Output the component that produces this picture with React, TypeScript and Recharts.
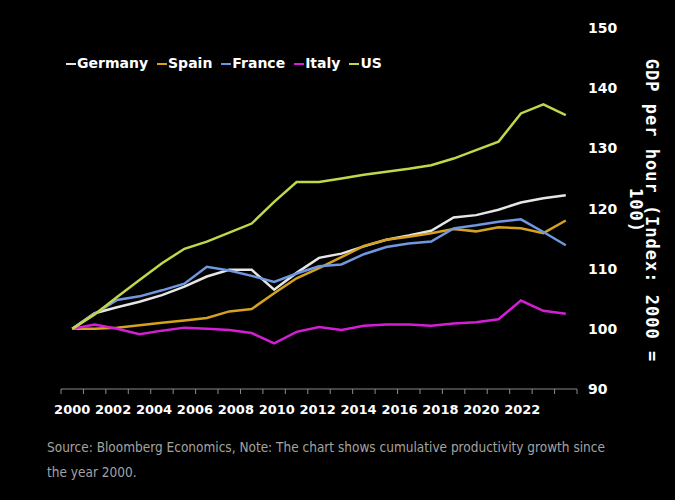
import React from "react";
import { LineChart, Line, XAxis, YAxis, Legend, Label } from "recharts";

const years = [2000, 2001, 2002, 2003, 2004, 2005, 2006, 2007, 2008, 2009, 2010, 2011, 2012, 2013, 2014, 2015, 2016, 2017, 2018, 2019, 2020, 2021, 2022];
const germany = [100, 102.6, 103.6, 104.5, 105.6, 107.0, 108.7, 109.8, 109.8, 106.5, 109.3, 111.8, 112.5, 113.7, 114.8, 115.5, 116.3, 118.5, 118.9, 119.8, 121.0, 121.7, 122.2];
const spain = [100, 100.0, 100.2, 100.6, 101.0, 101.4, 101.8, 102.9, 103.3, 105.9, 108.4, 110.1, 111.9, 113.8, 114.8, 115.3, 115.9, 116.6, 116.2, 116.9, 116.7, 115.9, 118.0];
const france = [100, 102.5, 104.8, 105.4, 106.4, 107.5, 110.3, 109.7, 108.8, 107.8, 109.2, 110.4, 110.7, 112.4, 113.6, 114.2, 114.5, 116.7, 117.2, 117.8, 118.2, 116.1, 113.9];
const italy = [100, 100.7, 100.0, 99.1, 99.7, 100.2, 100.0, 99.8, 99.3, 97.6, 99.5, 100.3, 99.8, 100.5, 100.7, 100.7, 100.5, 100.9, 101.1, 101.6, 104.7, 103.0, 102.5];
const us = [100, 102.4, 105.3, 108.1, 110.9, 113.3, 114.5, 116.0, 117.5, 121.1, 124.4, 124.4, 125.0, 125.6, 126.1, 126.6, 127.2, 128.3, 129.7, 131.1, 135.8, 137.3, 135.5];

const yTicks = [90, 100, 110, 120, 130, 140, 150];
// tick marks sit between the years
const xBounds = [...years.map((y) => y - 0.5), years[years.length - 1] + 0.5];

const series = [
  { key: "Germany", color: "#e6e6e6" },
  { key: "Spain", color: "#d6a21e" },
  { key: "France", color: "#6f98e0" },
  { key: "Italy", color: "#d41ed6" },
  { key: "US", color: "#c3d64a" },
];

const data = years.map((year, i) => ({
  year,
  Germany: germany[i],
  Spain: spain[i],
  France: france[i],
  Italy: italy[i],
  US: us[i],
}));

const W = 675;
const H = 500;
const LEFT = 61;
const Y_AXIS_W = 98;
const BAND = (W - LEFT - Y_AXIS_W) / years.length;
const FONT = "'DejaVu Sans', sans-serif";

function YearTick({ x, y, payload }: any) {
  const year = payload.value + 0.5;
  if (year % 2 !== 0 || year > 2022) return <g />;
  // labels in the original sit a little tighter than the data points
  const cx = x + BAND / 2 - (year - 2000) * 1.98;
  return (
    <text x={cx} y={y + 18} textAnchor="middle" fill="#ffffff" fontFamily={FONT} fontWeight={700} fontSize={13}>
      {year}
    </text>
  );
}

function ValueTick({ x, y, payload }: any) {
  return (
    <text x={x} y={y + 5} textAnchor="start" fill="#ffffff" fontFamily={FONT} fontWeight={700} fontSize={14}>
      {payload.value}
    </text>
  );
}

function AxisTitle({ viewBox }: any) {
  const cy = viewBox.y + viewBox.height / 2 + 2;
  const x1 = viewBox.x + 69;
  const x2 = viewBox.x + 53;
  const st = { fill: "#ffffff", fontFamily: "'DejaVu Sans Mono', monospace", fontWeight: 700, fontSize: 17, letterSpacing: 1 } as const;
  return (
    <g>
      <text x={x1} y={cy} textAnchor="middle" transform={`rotate(90 ${x1} ${cy})`} {...st}>
        GDP per hour (Index: 2000 =
      </text>
      <text x={x2} y={cy} textAnchor="middle" transform={`rotate(90 ${x2} ${cy})`} {...st}>
        100)
      </text>
    </g>
  );
}

function LegendRow() {
  return (
    <div style={{ display: "flex", fontFamily: FONT, fontWeight: 700, fontSize: 14, color: "#ffffff", whiteSpace: "nowrap" }}>
      {series.map((s) => (
        <span key={s.key} style={{ display: "flex", alignItems: "center", marginRight: 9 }}>
          <span style={{ width: 10, height: 2, background: s.color, marginRight: 1, marginTop: 1 }} />
          {s.key}
        </span>
      ))}
    </div>
  );
}

export default function App() {
  return (
    <div style={{ position: "absolute", left: 0, top: 0, width: W, height: H, background: "#000000" }}>
      <LineChart width={W} height={H} data={data} margin={{ top: 28, right: 0, bottom: 81, left: LEFT }}>
        <XAxis
          dataKey="year"
          type="number"
          domain={[1999.5, 2022.5]}
          ticks={xBounds}
          interval={0}
          height={30}
          tick={<YearTick />}
          tickSize={5}
          stroke="#8a8a8a"
          axisLine={{ stroke: "#8a8a8a" }}
          tickLine={{ stroke: "#8a8a8a" }}
        />
        <YAxis
          orientation="right"
          width={Y_AXIS_W}
          domain={[90, 150]}
          ticks={yTicks}
          axisLine={false}
          tickLine={false}
          tickSize={0}
          tickMargin={11}
          tick={<ValueTick />}
        >
          <Label content={<AxisTitle />} />
        </YAxis>
        <Legend
          layout="vertical"
          align="center"
          verticalAlign="middle"
          content={<LegendRow />}
          wrapperStyle={{ top: 55, left: 66, width: "auto", height: "auto" }}
        />
        {series.map((s) => (
          <Line
            key={s.key}
            type="linear"
            dataKey={s.key}
            stroke={s.color}
            strokeWidth={2.5}
            dot={false}
            isAnimationActive={false}
          />
        ))}
      </LineChart>
      <div
        style={{
          position: "absolute",
          left: 47,
          top: 435,
          width: 575,
          fontFamily: "'DejaVu Sans Condensed', sans-serif",
          fontSize: 13.5,
          lineHeight: "25px",
          color: "#a3a3a3",
        }}
      >
        Source: Bloomberg Economics, Note: The chart shows cumulative productivity growth since the year 2000.
      </div>
    </div>
  );
}
